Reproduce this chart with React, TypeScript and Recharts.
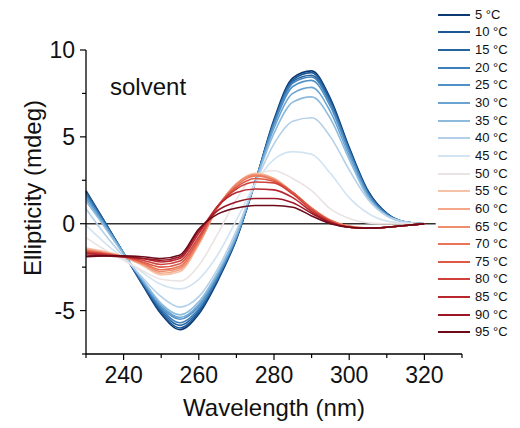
import React from 'react'
import { LineChart, Line, XAxis, YAxis, ReferenceLine } from 'recharts'

const FONT = '"Liberation Sans", Arial, sans-serif'

// wavelength grid (nm)
const wavelengths = [230, 235, 240, 245, 250, 255, 260, 265, 270, 275, 280, 285, 290, 295, 300, 305, 310, 315, 320]

const temps = [5, 10, 15, 20, 25, 30, 35, 40, 45, 50, 55, 60, 65, 70, 75, 80, 85, 90, 95]
const colors = [
    '#0b3a73', '#1d5796', '#26649f', '#3d7fba', '#4f90c6', '#6ba4d2', '#8dbbdd', '#b4d0e8', '#d3e3f1', '#ebe3e3',
    '#f7c3a8', '#f4a889', '#ef8e6c', '#e97458', '#de5a47', '#d0413a', '#b9262e', '#9c1626', '#6b0a18'
]

// ellipticity (mdeg) per temperature
const c5 = [1.9, 0.1, -1.7, -3.5, -5.2, -6.1, -5.2, -3.3, -0.9, 2.4, 6.0, 8.4, 8.8, 7.2, 4.4, 1.9, 0.6, 0.1, 0.0]
const c10 = [1.85, 0.1, -1.7, -3.45, -5.1, -6.0, -5.1, -3.2, -0.85, 2.4, 5.9, 8.3, 8.7, 7.1, 4.3, 1.85, 0.6, 0.1, 0.0]
const c15 = [1.8, 0.05, -1.7, -3.4, -5.0, -5.85, -5.0, -3.15, -0.8, 2.4, 5.85, 8.2, 8.55, 7.0, 4.25, 1.8, 0.55, 0.1, 0.0]
const c20 = [1.7, 0.0, -1.7, -3.35, -4.9, -5.7, -4.9, -3.1, -0.8, 2.4, 5.8, 8.1, 8.45, 6.9, 4.2, 1.75, 0.55, 0.1, 0.0]
const c25 = [1.6, -0.05, -1.7, -3.3, -4.8, -5.5, -4.75, -3.0, -0.75, 2.4, 5.7, 7.9, 8.25, 6.75, 4.1, 1.7, 0.5, 0.1, 0.0]
const c30 = [1.45, -0.1, -1.7, -3.25, -4.7, -5.4, -4.65, -2.9, -0.7, 2.4, 5.5, 7.5, 7.85, 6.45, 3.9, 1.6, 0.5, 0.1, 0.0]
const c35 = [1.3, -0.2, -1.75, -3.2, -4.6, -5.25, -4.5, -2.8, -0.6, 2.4, 5.2, 7.0, 7.3, 6.05, 3.7, 1.5, 0.45, 0.1, 0.0]
const c40 = [0.85, -0.6, -1.9, -3.1, -4.2, -4.8, -4.2, -2.6, -0.4, 2.3, 4.6, 5.9, 6.1, 5.0, 3.1, 1.4, 0.45, 0.1, 0.0]
const c45 = [-0.1, -1.1, -2.0, -2.8, -3.5, -3.75, -3.2, -1.8, 0.2, 2.3, 3.7, 4.15, 4.0, 2.9, 1.5, 0.6, 0.15, 0.05, 0.0]
const c50 = [-0.8, -1.5, -2.1, -2.7, -3.2, -3.3, -2.4, -0.6, 1.4, 2.8, 3.05, 2.6, 1.9, 0.85, 0.3, 0.05, 0.0, 0.0, 0.0]
const c55 = [-1.4, -1.6, -1.9, -2.4, -2.95, -2.75, -1.2, 0.9, 2.3, 2.9, 2.6, 1.8, 0.9, 0.2, -0.15, -0.25, -0.2, -0.1, 0.0]
const c60 = [-1.45, -1.65, -1.9, -2.35, -2.85, -2.65, -1.15, 0.9, 2.3, 2.85, 2.6, 1.8, 0.9, 0.2, -0.15, -0.25, -0.2, -0.1, 0.0]
const c65 = [-1.5, -1.7, -1.9, -2.3, -2.75, -2.55, -1.1, 0.95, 2.3, 2.8, 2.55, 1.8, 0.9, 0.2, -0.15, -0.25, -0.2, -0.1, 0.0]
const c70 = [-1.55, -1.7, -1.9, -2.25, -2.65, -2.45, -1.0, 0.95, 2.2, 2.75, 2.5, 1.8, 0.9, 0.2, -0.15, -0.25, -0.2, -0.1, 0.0]
const c75 = [-1.6, -1.75, -1.9, -2.2, -2.5, -2.3, -0.9, 1.0, 2.1, 2.6, 2.45, 1.8, 0.85, 0.15, -0.2, -0.25, -0.2, -0.1, 0.0]
const c80 = [-1.65, -1.75, -1.9, -2.1, -2.35, -2.15, -0.75, 1.0, 2.0, 2.4, 2.35, 1.7, 0.8, 0.15, -0.2, -0.25, -0.2, -0.1, 0.0]
const c85 = [-1.7, -1.8, -1.9, -2.0, -2.2, -2.0, -0.55, 1.0, 1.8, 2.0, 1.95, 1.5, 0.7, 0.1, -0.2, -0.25, -0.2, -0.1, 0.0]
const c90 = [-1.8, -1.85, -1.9, -2.0, -2.1, -1.9, -0.4, 0.75, 1.25, 1.45, 1.45, 1.2, 0.6, 0.05, -0.2, -0.25, -0.2, -0.1, 0.0]
const c95 = [-1.9, -1.85, -1.85, -1.9, -2.0, -1.8, -0.3, 0.55, 0.9, 1.05, 1.05, 0.95, 0.45, 0.0, -0.2, -0.25, -0.2, -0.1, 0.0]

const series = [c5, c10, c15, c20, c25, c30, c35, c40, c45, c50, c55, c60, c65, c70, c75, c80, c85, c90, c95]

const xTicks = [230, 240, 250, 260, 270, 280, 290, 300, 310, 320, 330]
const xMajor = [240, 260, 280, 300, 320]
const yTicks = [10, 7.5, 5, 2.5, 0, -2.5, -5, -7.5]
const yMajor = [10, 5, 0, -5]

const data = wavelengths.map((wl, i) => {
    const row: Record<string, number> = { wl }
    temps.forEach((t, k) => {
        row['t' + t] = series[k][i]
    })
    return row
})

// tickSize 6 + tickMargin 4 -> axis line sits 10px from the label anchor
function YTick(props: any) {
    const { x, y, payload } = props
    const major = yMajor.includes(payload.value)
    const ax = x + 10
    return (
        <g>
            <line x1={ax} x2={ax - (major ? 6 : 4)} y1={y} y2={y} stroke="#000" strokeWidth={1.2} />
            {major && (
                <text x={ax - 11} y={y} textAnchor="end" dominantBaseline="central" fontSize={23} fontFamily={FONT} fill="#111">
                    {payload.value}
                </text>
            )}
        </g>
    )
}

function XTick(props: any) {
    const { x, y, payload } = props
    const major = xMajor.includes(payload.value)
    const ay = y - 10
    return (
        <g>
            <line x1={x} x2={x} y1={ay} y2={ay + (major ? 6 : 4)} stroke="#000" strokeWidth={1.2} />
            {major && (
                <text x={x} y={ay + 29} textAnchor="middle" fontSize={23} fontFamily={FONT} fill="#111">
                    {payload.value}
                </text>
            )}
        </g>
    )
}

export default function App() {
    return (
        <div style={{ position: 'absolute', left: 0, top: 0, width: 520, height: 428, background: '#fff' }}>
            <LineChart width={520} height={428} data={data} margin={{ top: 50, right: 58, left: 26, bottom: 34 }}>
                <XAxis
                    dataKey="wl"
                    type="number"
                    domain={[230, 330]}
                    ticks={xTicks}
                    tick={<XTick />}
                    tickLine={false}
                    tickSize={6}
                    tickMargin={4}
                    height={40}
                    axisLine={{ stroke: '#000', strokeWidth: 1.3 }}
                    interval={0}
                    label={({ viewBox }: any) => (
                        <text x={viewBox.x + viewBox.width / 2} y={viewBox.y + 62} textAnchor="middle" fontSize={24} fontFamily={FONT} fill="#111">
                            Wavelength (nm)
                        </text>
                    )}
                />
                <YAxis
                    type="number"
                    domain={[-7.5, 10]}
                    ticks={yTicks}
                    tick={<YTick />}
                    tickLine={false}
                    tickSize={6}
                    tickMargin={4}
                    width={60}
                    axisLine={{ stroke: '#000', strokeWidth: 1.3 }}
                    interval={0}
                    label={({ viewBox }: any) => {
                        const cx = viewBox.x + 6
                        const cy = 188
                        return (
                            <text x={cx} y={cy} transform={`rotate(-90 ${cx} ${cy})`} textAnchor="middle" dominantBaseline="central" fontSize={24} fontFamily={FONT} fill="#111">
                                Ellipticity (mdeg)
                            </text>
                        )
                    }}
                />
                <ReferenceLine segment={[{ x: 230, y: 0 }, { x: 323, y: 0 }]} stroke="#333" strokeWidth={1.5} />
                {temps.map((t, k) => (
                    <Line
                        key={t}
                        type="monotone"
                        dataKey={'t' + t}
                        stroke={colors[k]}
                        strokeWidth={1.6}
                        dot={false}
                        isAnimationActive={false}
                    />
                ))}
            </LineChart>

            <div style={{ position: 'absolute', left: 110, top: 72, fontSize: 24, fontFamily: FONT, color: '#111', lineHeight: '30px' }}>
                solvent
            </div>

            {/* legend */}
            <div style={{ position: 'absolute', left: 438, top: 6 }}>
                {temps.map((t, k) => (
                    <div key={t} style={{ display: 'flex', alignItems: 'center', height: 17.65 }}>
                        <div style={{ width: 32, height: 2, background: colors[k] }} />
                        <span style={{ marginLeft: 5, fontSize: 13, fontFamily: FONT, color: '#111', lineHeight: '14px' }}>
                            {t} °C
                        </span>
                    </div>
                ))}
            </div>
        </div>
    )
}
